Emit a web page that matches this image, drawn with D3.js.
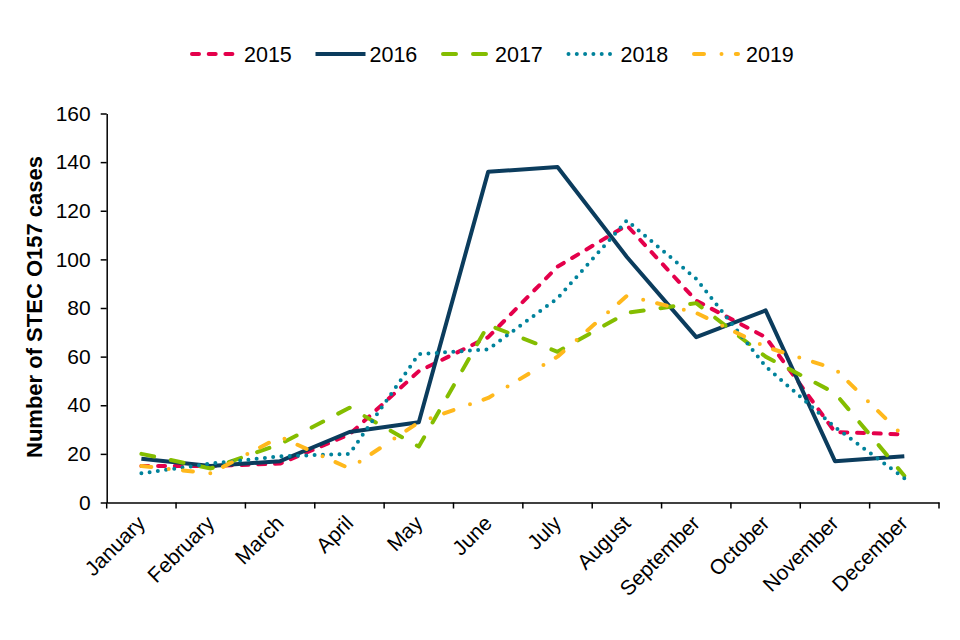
<!DOCTYPE html>
<html>
<head>
<meta charset="utf-8">
<script src="https://cdn.jsdelivr.net/npm/d3@7"></script>
<style>
  body { margin: 0; background: #fff; }
  svg { font-family: "Liberation Sans", Arial, sans-serif; }
</style>
</head>
<body>
<svg id="chart"></svg>
<script>
// data
var months = ["January", "February", "March", "April", "May", "June",
	"July", "August", "September", "October", "November", "December"];
var years = ["2015", "2016", "2017", "2018", "2019"];
var cases2015 = [15, 15, 16, 28, 54, 68, 97, 114, 83, 68, 29, 28];
var cases2016 = [18, 15, 17, 29, 33, 136, 138, 101, 68, 79, 17, 19];
var cases2017 = [20, 14, 24, 39, 23, 73, 62, 78, 82, 60, 45, 11];
var cases2018 = [12, 16, 19, 20, 61, 63, 84, 116, 92, 56, 31, 10];
var cases2019 = [15, 12, 27, 14, 33, 43, 60, 85, 78, 64, 55, 27];
var yTicks = [0, 20, 40, 60, 80, 100, 120, 140, 160];

var styles = {
	"2015": { color: "#e4004b", dash: "7,9.7" },
	"2016": { color: "#0b3c5d", dash: null },
	"2017": { color: "#84bd00", dash: "13,17" },
	"2018": { color: "#00829b", dash: "0,8.3" },
	"2019": { color: "#ffb81c", dash: "10,17.5,0,14.3" }
};
var series = [cases2015, cases2016, cases2017, cases2018, cases2019];

var width = 960, height = 640;
var margin = { left: 106.7, right: 21, top: 113.5, bottom: 137.5 };

var svg = d3.select("#chart")
	.attr("width", width)
	.attr("height", height);

var x = d3.scaleBand()
	.domain(months)
	.range([margin.left, width - margin.right]);
var y = d3.scaleLinear()
	.domain([0, 160])
	.range([height - margin.bottom, margin.top]);

// y axis
var yAxis = svg.append("g")
	.attr("transform", "translate(" + margin.left + ",0)")
	.call(d3.axisLeft(y).tickValues(yTicks).tickSize(6).tickSizeOuter(0).tickPadding(10));
yAxis.select(".domain").attr("stroke", "#000").attr("stroke-width", 1.5);
yAxis.selectAll(".tick line").attr("stroke", "#000").attr("stroke-width", 1.5);
yAxis.selectAll(".tick text")
	.attr("font-size", 21)
	.attr("font-family", "Liberation Sans, Arial, sans-serif")
	.attr("fill", "#000");

// x axis: labels on band centres, ticks on band edges
var xAxis = svg.append("g")
	.attr("transform", "translate(0," + y(0) + ")")
	.call(d3.axisBottom(x).tickSize(0).tickSizeOuter(0).tickFormat(""));
xAxis.select(".domain").attr("stroke", "#000").attr("stroke-width", 1.5);

var edges = months.map(function(m) { return x(m); }).concat([x.range()[1]]);
xAxis.selectAll(".edge")
	.data(edges)
	.enter().append("line")
	.attr("x1", function(d) { return d; })
	.attr("x2", function(d) { return d; })
	.attr("y1", 0)
	.attr("y2", 6)
	.attr("stroke", "#000")
	.attr("stroke-width", 1.5);

svg.append("g").selectAll("text")
	.data(months)
	.enter().append("text")
	.attr("transform", function(d) {
		return "translate(" + (x(d) + x.bandwidth() / 2 + 5) + "," + (y(0) + 22) + ") rotate(-45)";
	})
	.attr("text-anchor", "end")
	.attr("font-size", 21)
	.attr("fill", "#000")
	.text(function(d) { return d; });

// y axis title
svg.append("text")
	.attr("transform", "translate(42," + 307 + ") rotate(-90)")
	.attr("text-anchor", "middle")
	.attr("font-size", 22)
	.attr("font-weight", "bold")
	.attr("fill", "#000")
	.text("Number of STEC O157 cases");

// lines
var line = d3.line()
	.x(function(d, i) { return x(months[i]) + x.bandwidth() / 2; })
	.y(function(d) { return y(d); });

svg.append("g").selectAll("path")
	.data(series)
	.enter().append("path")
	.attr("d", line)
	.attr("fill", "none")
	.attr("stroke", function(d, i) { return styles[years[i]].color; })
	.attr("stroke-width", 4)
	.attr("stroke-linecap", function(d, i) { return years[i] === "2016" ? "butt" : "round"; })
	.attr("stroke-linejoin", "round")
	.attr("stroke-dasharray", function(d, i) { return styles[years[i]].dash; });

// legend
var legend = svg.append("g").selectAll("g")
	.data(years)
	.enter().append("g")
	.attr("transform", function(d, i) { return "translate(" + (190 + i * 125.5) + ",54)"; });
legend.append("line")
	.attr("x1", function(d) { return d === "2016" ? 0 : 2; })
	.attr("x2", function(d) { return d === "2016" ? 50 : 46; })
	.attr("stroke", function(d) { return styles[d].color; })
	.attr("stroke-width", 4)
	.attr("stroke-linecap", function(d) { return d === "2016" ? "butt" : "round"; })
	.attr("stroke-dasharray", function(d) { return styles[d].dash; });
legend.append("text")
	.attr("x", 54)
	.attr("y", 7.5)
	.attr("font-size", 21.5)
	.attr("fill", "#000")
	.text(function(d) { return d; });
</script>
</body>
</html>
